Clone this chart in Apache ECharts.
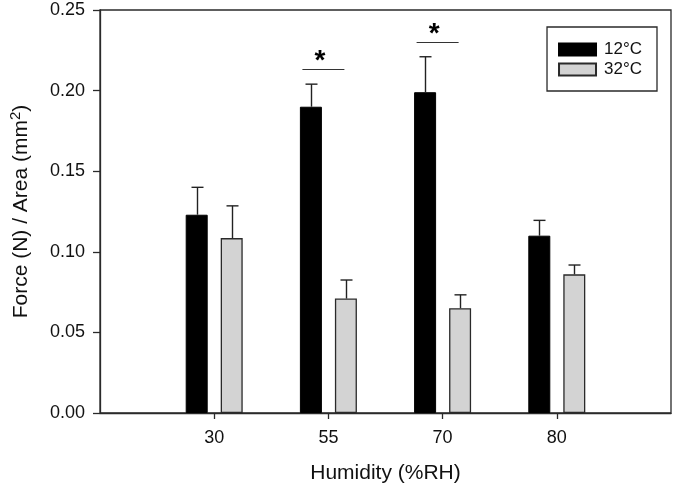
<!DOCTYPE html>
<html>
<head>
<meta charset="utf-8">
<script src="https://cdn.jsdelivr.net/npm/echarts@6/dist/echarts.min.js"></script>
<style>html,body{margin:0;padding:0;background:#fff}#c{width:675px;height:489px}</style>
</head>
<body>
<div id="c"></div>
<script>
// ---- data ----
const categories = ['30', '55', '70', '80'];
const seriesNames = ['12°C', '32°C'];
const values12 = [0.123, 0.190, 0.199, 0.110];
const errors12 = [0.017, 0.014, 0.022, 0.0095];
const values32 = [0.1085, 0.071, 0.065, 0.086];
const errors32 = [0.020, 0.0115, 0.0083, 0.0058];
const sigCategories = ['55', '70'];
const sigLevels = [0.2134, 0.2301];
const sigLabels = ['*', '*'];
const yTicks = { min: 0, max: 0.25, interval: 0.05 };

// ---- layout / style constants ----
const FONT = 'Liberation Sans, Arial, sans-serif';
const BAR_W = 22, GAP_PX = 13;
const AXIS_COLOR = '#2a2a2a';

const axisCats = [''].concat(categories).concat(['']);
const idx = c => axisCats.indexOf(c);

function barData(vals) {
  return axisCats.map((c, i) => {
    const k = categories.indexOf(c);
    return k >= 0 ? vals[k] : null;
  });
}
function errData(vals, errs) {
  return categories.map((c, k) => [idx(c), vals[k], errs[k]]);
}
function errSeries(vals, errs, offset) {
  return {
    type: 'custom',
    data: errData(vals, errs),
    z: 5,
    silent: true,
    renderItem: function (params, api) {
      const x = api.value(0), v = api.value(1), e = api.value(2);
      const b = api.coord([x, v]);
      const t = api.coord([x, v + e]);
      const cx = Math.round(b[0] + offset) + 0.5;
      const st = { stroke: '#222', lineWidth: 1.4 };
      return {
        type: 'group',
        children: [
          { type: 'line', shape: { x1: cx, y1: b[1], x2: cx, y2: t[1] }, style: st },
          { type: 'line', shape: { x1: cx - 6, y1: t[1], x2: cx + 6, y2: t[1] }, style: st }
        ]
      };
    }
  };
}
const off = (BAR_W + GAP_PX) / 2;

const chart = echarts.init(document.getElementById('c'), null, { renderer: 'canvas' });
chart.setOption({
  animation: false,
  backgroundColor: '#fff',
  textStyle: { fontFamily: FONT },
  grid: { left: 96, right: 4, top: 10, bottom: 76, show: true, borderColor: AXIS_COLOR, borderWidth: 1.3 },
  legend: {
    data: seriesNames,
    orient: 'vertical',
    right: 18, top: 27,
    padding: [14, 15, 13, 11],
    itemWidth: 37, itemHeight: 12, itemGap: 3,
    borderColor: AXIS_COLOR, borderWidth: 1.3,
    icon: 'rect',
    textStyle: { fontFamily: FONT, fontSize: 17, color: '#111', padding: [0, 0, 0, 3] }
  },
  xAxis: {
    type: 'category',
    data: axisCats,
    boundaryGap: false,
    axisLine: { lineStyle: { color: AXIS_COLOR, width: 1.3 } },
    axisTick: { length: 6, interval: (i, v) => v !== '', lineStyle: { color: AXIS_COLOR, width: 1.3 } },
    axisLabel: { interval: 0, margin: 16, fontSize: 18, color: '#111', fontFamily: FONT },
    splitLine: { show: false },
    name: 'Humidity (%RH)',
    nameLocation: 'middle',
    nameGap: 50,
    nameTextStyle: { fontSize: 21, color: '#111', fontFamily: FONT }
  },
  yAxis: {
    type: 'value',
    min: yTicks.min, max: yTicks.max, interval: yTicks.interval,
    axisLine: { show: true, lineStyle: { color: AXIS_COLOR, width: 1.3 } },
    axisTick: { show: true, length: 7, lineStyle: { color: AXIS_COLOR, width: 1.3 } },
    axisLabel: { margin: 15, fontSize: 18, color: '#111', fontFamily: FONT, formatter: v => v.toFixed(2) },
    splitLine: { show: false },
    name: '{a|Force (N) / Area (mm}{s|2}{a|)}',
    nameLocation: 'middle',
    nameGap: 65,
    nameTextStyle: {
      rich: {
        a: { fontSize: 21, color: '#111', fontFamily: FONT },
        s: { fontSize: 15, color: '#111', fontFamily: FONT, padding: [0, 0, 12, 0] }
      }
    }
  },
  series: [
    {
      name: seriesNames[0], type: 'bar', data: barData(values12),
      barWidth: BAR_W, barGap: (GAP_PX / BAR_W * 100) + '%',
      itemStyle: { color: '#000', borderColor: '#000', borderWidth: 1 }
    },
    {
      name: seriesNames[1], type: 'bar', data: barData(values32),
      barWidth: BAR_W,
      itemStyle: { color: '#d3d3d3', borderColor: '#2a2a2a', borderWidth: 1.3 }
    },
    errSeries(values12, errors12, -off),
    errSeries(values32, errors32, off),
    {
      type: 'custom',
      silent: true,
      z: 6,
      data: sigCategories.map((c, k) => [idx(c), sigLevels[k], sigLabels[k]]),
      renderItem: function (params, api) {
        const p = api.coord([api.value(0), api.value(1)]);
        const y = Math.round(p[1]) + 0.5;
        return {
          type: 'group',
          children: [
            { type: 'line', shape: { x1: p[0] - 26, y1: y, x2: p[0] + 16, y2: y }, style: { stroke: '#333', lineWidth: 1.2 } },
            { type: 'text', style: { text: sigLabels[params.dataIndex], x: p[0] - 8.5, y: y + 6, align: 'center', verticalAlign: 'bottom', fontSize: 28, fontWeight: 'bold', fontFamily: FONT, fill: '#000' } }
          ]
        };
      }
    }
  ]
});
</script>
</body>
</html>
